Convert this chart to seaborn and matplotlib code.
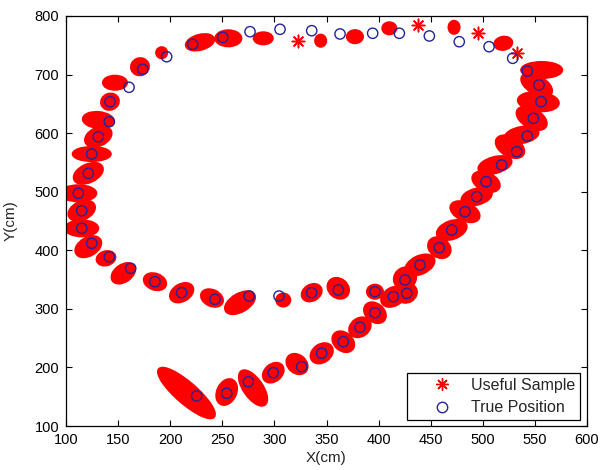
import matplotlib
matplotlib.use("Agg")
import matplotlib.pyplot as plt
import matplotlib.transforms as mtransforms
from matplotlib.patches import Ellipse
from matplotlib.lines import Line2D
import seaborn as sns

# ---------------- data (cm) ----------------
true_x = [160.5, 142.2, 141.6, 131.0, 124.7, 121.4, 111.8, 115.1, 115.1, 124.7,
          141.6, 162.1, 185.4, 211.0, 243.0, 275.9, 304.4, 335.8, 361.3, 396.5,
          414.1, 427.0, 425.3, 439.7, 458.3, 470.2, 482.9, 494.1, 503.1, 518.1,
          532.5, 542.7, 548.5, 555.9, 553.9, 542.7, 528.7, 506.0, 477.4, 448.7,
          419.9, 394.3, 363.0, 335.8, 305.4, 276.6, 250.4, 221.6, 196.6, 173.6,
          225.4, 254.2, 275.0, 298.9, 326.2, 345.4, 366.1, 382.1, 396.5]
true_y = [678.3, 653.7, 619.5, 593.9, 564.4, 531.4, 497.3, 467.6, 437.5, 411.9,
          389.0, 369.2, 346.4, 327.6, 316.3, 321.9, 321.9, 327.6, 332.2, 329.3,
          320.8, 326.5, 349.3, 374.9, 404.4, 434.6, 465.9, 491.5, 517.1, 545.6,
          568.3, 595.1, 625.3, 653.7, 682.2, 706.1, 727.8, 747.6, 756.1, 765.9,
          770.5, 770.5, 769.3, 774.9, 777.3, 773.2, 763.6, 751.7, 730.5, 709.0,
          151.2, 155.8, 175.6, 191.0, 201.2, 224.1, 243.9, 268.5, 293.4]

# centres of the clusters of useful samples (cm)
cluster_x = [147.0, 142.2, 131.0, 131.0, 124.7, 121.4, 111.8, 115.1, 115.1, 121.4,
             138.4, 155.0, 185.4, 211.0, 240.1, 267.0, 308.5, 335.8, 361.3, 396.5,
             414.1, 427.0, 425.3, 439.7, 458.3, 470.2, 482.9, 494.1, 503.1, 511.7,
             526.1, 537.3, 546.9, 553.3, 551.7, 556.5, 519.7, 472.4, 289.3, 344.4,
             377.3, 410.3, 255.8, 228.6, 191.8, 171.0,
             215.6, 254.2, 279.5, 298.9, 321.7, 345.4, 366.1, 382.1, 396.5]
cluster_y = [686.1, 653.7, 622.4, 593.9, 564.4, 531.4, 497.3, 467.6, 437.5, 406.1,
             386.3, 360.7, 346.4, 327.6, 318.5, 310.5, 315.1, 327.6, 335.1, 329.3,
             320.8, 326.5, 352.1, 374.9, 404.4, 434.6, 465.9, 491.5, 517.1, 545.6,
             576.8, 596.8, 625.3, 653.7, 682.2, 707.8, 753.4, 780.7, 761.9, 757.8,
             764.7, 779.0, 761.9, 755.1, 737.3, 713.4,
             156.3, 158.0, 164.9, 191.0, 205.8, 224.1, 243.9, 268.5, 293.4]

# isolated useful samples (cm)
single_x = [323.0, 438.0, 495.6, 532.5]
single_y = [757.8, 784.6, 770.5, 736.3]

# cluster shapes (pixels, degrees) - style only
cluster_len = [23, 17, 30, 27, 37, 30, 35, 27, 32, 27,
               18, 25, 22, 24, 22, 32, 13, 20, 22, 15,
               25, 20, 22, 30, 23, 30, 30, 30, 28, 33,
               30, 33, 32, 40, 33, 40, 17, 10, 18, 10,
               15, 13, 25, 28, 10, 17,
               72, 26, 40, 22, 22, 23, 23, 22, 23]
cluster_wid = [13, 15, 15, 17, 13, 17, 15, 17, 15, 17,
               13, 16, 15, 16, 15, 17, 12, 15, 18, 13,
               17, 17, 20, 17, 18, 17, 17, 15, 17, 15,
               18, 15, 18, 18, 17, 15, 12, 12, 11, 11,
               12, 11, 15, 14, 10, 16,
               20, 18, 18, 16, 17, 17, 17, 17, 17]
cluster_ang = [0, 20, -5, 25, 0, 25, 0, 25, 0, 30,
               15, 35, -20, 30, -25, 30, 0, 30, -40, 0,
               30, 30, 40, 25, -35, 20, -25, 15, -25, 15,
               -30, 10, -30, -5, -30, 0, 10, 0, 0, 0,
               0, 0, 0, 15, 0, 20,
               -41, 65, -55, 40, -40, 35, -40, 35, -40]

RED = "#ff0000"
NAVY = "#23239a"

sns.set_style("white")
plt.rcParams['font.family'] = ['Liberation Sans', 'DejaVu Sans']

fig = plt.figure(figsize=(6.05, 4.70), dpi=100)
ax = fig.add_axes([66 / 605, 1 - 426 / 470, 521 / 605, 410 / 470])
ax.set_xlim(100, 600)
ax.set_ylim(100, 800)

for cx, cy, L, W, a in zip(cluster_x, cluster_y, cluster_len, cluster_wid, cluster_ang):
    tr = fig.dpi_scale_trans + mtransforms.ScaledTranslation(cx, cy, ax.transData)
    e = Ellipse((0, 0), L / 100, W / 100, angle=a, transform=tr,
                facecolor=RED, edgecolor=RED, lw=2.2, zorder=2)
    ax.add_patch(e)

sns.scatterplot(x=single_x, y=single_y, ax=ax, marker=(8, 2, 0), s=80,
                color=RED, edgecolor=RED, linewidth=1.1, zorder=3, legend=False)
sns.scatterplot(x=true_x, y=true_y, ax=ax, marker='o', s=55,
                facecolor='none', edgecolor=NAVY, linewidth=1.0, zorder=4, legend=False)

ax.set_xticks(range(100, 601, 50))
ax.set_yticks(range(100, 801, 100))
ax.tick_params(direction='in', length=4, width=0.8, top=True, right=True,
               bottom=True, left=True, labelsize=10.5, colors='black', pad=5)
for sp in ax.spines.values():
    sp.set_color('black')
    sp.set_linewidth(0.9)

ax.set_xlabel('X(cm)', fontsize=11, labelpad=3)
ax.set_ylabel('Y(cm)', fontsize=11, labelpad=12)

handles = [Line2D([], [], linestyle='none', marker=(8, 2, 0), markersize=9,
                  markeredgecolor=RED, markeredgewidth=1.0, color=RED),
           Line2D([], [], linestyle='none', marker='o', markersize=7.5,
                  markerfacecolor='none', markeredgecolor=NAVY, markeredgewidth=1.0)]
leg = ax.legend(handles, ['Useful Sample', 'True Position'], loc='lower right',
                bbox_to_anchor=(0.9866, 0.0146), borderaxespad=0, fontsize=11.5,
                frameon=True, fancybox=False, edgecolor='black', framealpha=1,
                borderpad=0.3, handlelength=3.8, handletextpad=-0.1, labelspacing=0.45)
leg.get_frame().set_linewidth(0.9)

fig.savefig('out.png', dpi=100)
